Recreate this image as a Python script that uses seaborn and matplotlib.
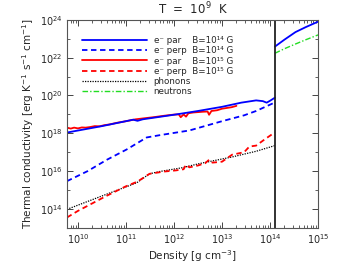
import numpy as np
import pandas as pd
import seaborn as sns
import matplotlib
matplotlib.use('Agg')
import matplotlib.pyplot as plt
from matplotlib.ticker import FixedLocator, NullFormatter

# values, as log10(density) / log10(conductivity)
blue_par_logrho = [9.77, 10.5, 11.15, 11.24, 11.35, 12.0, 12.5, 13.0, 13.4, 13.71, 13.85, 13.93, 14.0, 14.1]
blue_par_logk = [18.04, 18.38, 18.72, 18.66, 18.74, 18.98, 19.18, 19.4, 19.62, 19.74, 19.70, 19.62, 19.72, 19.88]

blue_perp_logrho = [9.77, 10.2, 10.6, 11.01, 11.28, 11.43, 11.7, 12.32, 13.0, 13.46, 13.71, 14.1]
blue_perp_logk = [15.47, 16.0, 16.6, 17.14, 17.55, 17.78, 17.9, 18.15, 18.64, 18.95, 19.18, 19.63]

red_par_logrho = [9.77, 9.85, 9.92, 10.0, 10.08, 10.16, 10.25, 10.35, 10.45, 10.55, 10.66, 10.8,
                  11.0, 11.2, 11.4, 11.6, 11.8, 12.0, 12.1, 12.14, 12.2, 12.25, 12.3, 12.4, 12.5,
                  12.6, 12.7, 12.73, 12.78, 12.9, 13.0, 13.2, 13.3]
red_par_logk = [18.30, 18.25, 18.30, 18.26, 18.31, 18.30, 18.33, 18.38, 18.37, 18.43, 18.47, 18.55,
                18.64, 18.74, 18.80, 18.86, 18.93, 18.99, 19.0, 18.85, 19.0, 18.88, 19.06, 19.1, 19.12,
                19.14, 19.15, 18.98, 19.18, 19.22, 19.3, 19.38, 19.45]

red_perp_logrho = [9.77, 10.0, 10.3, 10.6, 10.99, 11.24, 11.49, 11.8, 12.04, 12.2, 12.25, 12.32,
                   12.5, 12.65, 12.73, 12.8, 13.0, 13.21, 13.46, 13.57, 13.71, 13.9, 14.1]
red_perp_logk = [13.55, 13.9, 14.3, 14.7, 15.19, 15.45, 15.86, 15.98, 16.04, 16.1, 16.34, 16.2,
                 16.3, 16.42, 16.6, 16.45, 16.5, 16.87, 17.0, 17.3, 17.35, 17.7, 18.05]

phonon_logrho = [9.77, 10.46, 11.22, 11.49, 11.7, 12.17, 12.53, 13.21, 13.71, 14.1]
phonon_logk = [13.98, 14.65, 15.38, 15.86, 15.98, 16.18, 16.4, 16.75, 17.05, 17.35]

core_logrho = [14.1, 14.3, 14.53, 14.75, 15.0]
core_blue_logk = [22.58, 22.95, 23.35, 23.62, 23.9]
neutron_logrho = [14.1, 14.3, 14.53, 14.75, 15.0]
neutron_logk = [22.23, 22.47, 22.72, 22.95, 23.2]

crust_core_logrho = 14.1

x_ticks = [1e10, 1e11, 1e12, 1e13, 1e14, 1e15]
y_ticks = [1e14, 1e16, 1e18, 1e20, 1e22, 1e24]

labels_order = ['e⁻ par    B=10¹⁴ G', 'e⁻ perp  B=10¹⁴ G', 'e⁻ par    B=10¹⁵ G',
                'e⁻ perp  B=10¹⁵ G', 'phonons', 'neutrons']

sns.set_style('ticks')
plt.rcParams['font.family'] = ['DejaVu Sans']
plt.rcParams['mathtext.default'] = 'regular'

fig = plt.figure(figsize=(3.38, 2.71), dpi=100)
ax = fig.add_axes([0.198, 0.159, 0.743, 0.768])

def draw(lr, lk, **kw):
    d = pd.DataFrame({'rho': 10 ** np.array(lr), 'k': 10 ** np.array(lk)})
    sns.lineplot(data=d, x='rho', y='k', ax=ax, sort=False, estimator=None, **kw)

lw = 1.3
draw(red_par_logrho, red_par_logk, color='red', lw=lw, label=labels_order[2])
draw(blue_par_logrho, blue_par_logk, color='blue', lw=lw, label=labels_order[0])
draw(blue_perp_logrho, blue_perp_logk, color='blue', lw=lw, ls=(0, (3, 2)), label=labels_order[1])
draw(phonon_logrho, phonon_logk, color='black', lw=0.9, ls=(0, (1, 1)), label=labels_order[4])
draw(red_perp_logrho, red_perp_logk, color='red', lw=lw, ls=(0, (3, 2)), label=labels_order[3])
draw(core_logrho, core_blue_logk, color='blue', lw=lw)
draw(neutron_logrho, neutron_logk, color='#22dd22', lw=1.0, ls=(0, (4, 1.5, 1, 1.5)), label=labels_order[5])

ax.axvline(10 ** crust_core_logrho, color='#222222', lw=1.3)

ax.set_xscale('log')
ax.set_yscale('log')
ax.set_xlim(10 ** 9.77, 1e15)
ax.set_ylim(1e13, 1e24)

x_minor = [m * 10.0 ** e for e in range(9, 15) for m in range(2, 10)]
y_minor = [10.0 ** e for e in range(13, 24, 2)]
ax.xaxis.set_major_locator(FixedLocator(x_ticks))
ax.xaxis.set_minor_locator(FixedLocator(x_minor))
ax.yaxis.set_major_locator(FixedLocator(y_ticks))
ax.yaxis.set_minor_locator(FixedLocator(y_minor))
ax.xaxis.set_minor_formatter(NullFormatter())
ax.yaxis.set_minor_formatter(NullFormatter())
ax.tick_params(which='both', direction='in', top=True, right=True, labelsize=7, pad=3, color='#444444')
ax.tick_params(which='major', length=4, width=0.7)
ax.tick_params(which='minor', length=2, width=0.6)
for s in ax.spines.values():
    s.set_color('#555555')
    s.set_linewidth(0.8)

ax.set_xlabel('Density [g cm$^{-3}$]', fontsize=7.5, labelpad=2)
ax.set_ylabel('Thermal conductivity [erg K$^{-1}$ s$^{-1}$ cm$^{-1}$]', fontsize=7.5, labelpad=3)
ax.set_title('T  =  10$^9$  K', fontsize=8.5, pad=4)

handles, labels = ax.get_legend_handles_labels()
lookup = dict(zip(labels, handles))
ax.legend([lookup[l] for l in labels_order], labels_order, loc='upper left',
          bbox_to_anchor=(0.06, 0.92), frameon=False, fontsize=6.3, handlelength=7.4,
          handletextpad=0.8, labelspacing=0.12, borderaxespad=0.0, borderpad=0.0)

fig.savefig('out.png', dpi=100)
